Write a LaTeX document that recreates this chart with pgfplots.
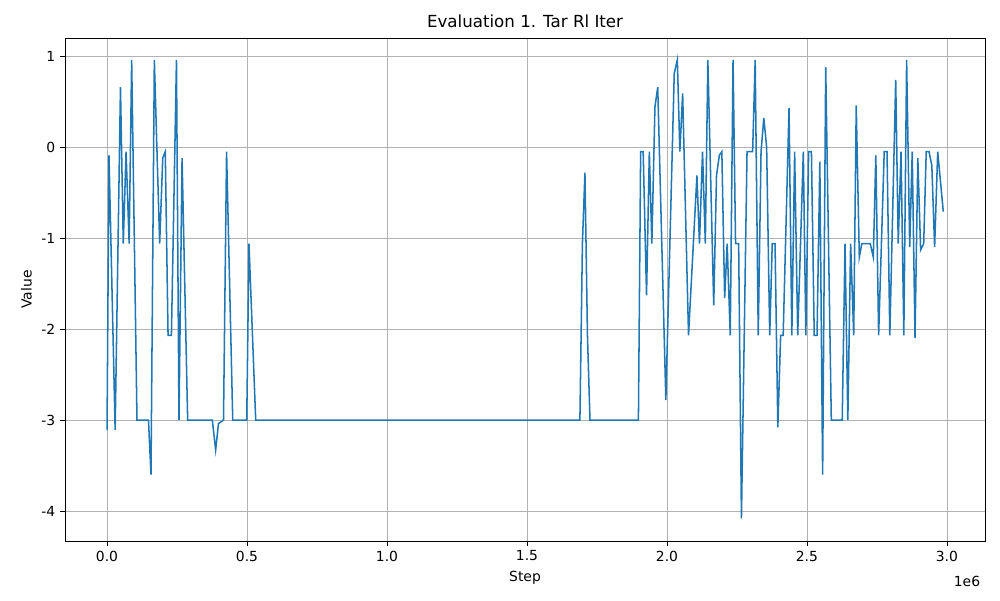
\documentclass[border=0pt]{standalone}
\usepackage{pgfplots}
\pgfplotsset{compat=1.18}
\usepackage{fontspec}
\setmainfont{DejaVu Sans}
\definecolor{mplblue}{HTML}{1F77B4}
\begin{document}
\begin{tikzpicture}
\begin{axis}[
  scale only axis, width=662.4pt, height=362.2pt,
  xmin=-0.15, xmax=3.136, ymin=-4.33, ymax=1.2,
  xtick={0,0.5,1,1.5,2,2.5,3}, ytick={-4,-3,-2,-1,0,1},
  xticklabel style={/pgf/number format/.cd,fixed,fixed zerofill,precision=1},
  /pgf/number format/assume math mode=true,
  tick label style={font=\fontsize{10}{12}\selectfont},
  label style={font=\fontsize{10}{12}\selectfont},
  grid=major, grid style={color=gray!60, line width=0.6pt},
  tick align=outside, tick style={black, line width=0.6pt}, major tick length=3.5pt,
  xtick pos=bottom, ytick pos=left,
  axis line style={line width=0.6pt},
  xlabel={Step}, ylabel={Value},
  title={Evaluation 1. Tar Rl Iter}, title style={font=\fontsize{12}{14}\selectfont, yshift=-2pt},
  clip=false,
]
\draw[draw=none] (rel axis cs:-0.0707,-0.1173) rectangle (rel axis cs:1.0163,1.0755);
\node[anchor=north east, font=\fontsize{10}{12}\selectfont] at (rel axis cs:1,-0.06) {1e6};
\addplot[mplblue, line width=1.1pt, mark=none] coordinates {
(0,-3.11)(0.007,-0.09)(0.029,-3.11)(0.048,0.66)(0.058,-1.06)(0.068,-0.05)(0.079,-1.06)(0.088,0.96)
(0.107,-3)(0.148,-3)(0.157,-3.6)(0.169,0.96)(0.188,-1.06)(0.199,-0.12)(0.208,-0.05)(0.218,-2.07)
(0.23,-2.07)(0.248,0.96)(0.257,-3)(0.268,-0.12)(0.288,-3)(0.376,-3)(0.388,-3.33)(0.398,-3.04)
(0.416,-3)(0.427,-0.05)(0.449,-3)(0.499,-3)(0.507,-1.06)(0.531,-3)(1.689,-3)(1.698,-1.06)
(1.707,-0.28)(1.716,-2.07)(1.725,-3)(1.898,-3)(1.906,-0.05)(1.915,-0.05)(1.927,-1.63)(1.937,-0.05)
(1.946,-1.06)(1.957,0.44)(1.967,0.66)(1.996,-2.78)(2.026,0.81)(2.037,0.96)(2.046,-0.05)(2.056,0.59)
(2.077,-2.07)(2.107,-0.31)(2.116,-1.06)(2.127,-0.05)(2.137,-1.06)(2.146,0.96)(2.167,-1.74)(2.177,-0.31)
(2.187,-0.09)(2.196,-0.05)(2.206,-1.66)(2.215,-1.06)(2.226,-2.07)(2.236,0.96)(2.245,-1.06)(2.256,-1.06)
(2.266,-4.08)(2.286,-0.05)(2.306,-0.05)(2.315,0.96)(2.326,-2.07)(2.336,-0.05)(2.346,0.32)(2.356,0.0)
(2.367,-2.07)(2.376,-1.06)(2.386,-1.06)(2.396,-3.08)(2.406,-2.07)(2.415,-2.07)(2.436,0.43)(2.446,-2.07)
(2.456,-0.05)(2.467,-2.07)(2.487,-0.05)(2.496,-2.07)(2.506,-0.05)(2.516,-0.05)(2.526,-2.07)(2.536,-2.07)
(2.546,-0.16)(2.556,-3.6)(2.567,0.88)(2.587,-3)(2.626,-3)(2.636,-1.06)(2.646,-3)(2.656,-1.06)
(2.667,-2.07)(2.676,0.46)(2.687,-1.21)(2.696,-1.06)(2.726,-1.06)(2.737,-1.21)(2.746,-0.09)(2.756,-2.07)
(2.776,-0.05)(2.786,-0.05)(2.796,-2.07)(2.817,0.74)(2.826,-1.06)(2.836,-0.05)(2.846,-2.07)(2.856,0.96)
(2.867,-1.1)(2.876,-0.05)(2.886,-2.1)(2.896,-0.12)(2.906,-1.13)(2.917,-1.06)(2.926,-0.05)(2.936,-0.05)
(2.946,-0.2)(2.956,-1.1)(2.967,-0.05)(2.987,-0.71)
};
\end{axis}
\end{tikzpicture}
\end{document}
